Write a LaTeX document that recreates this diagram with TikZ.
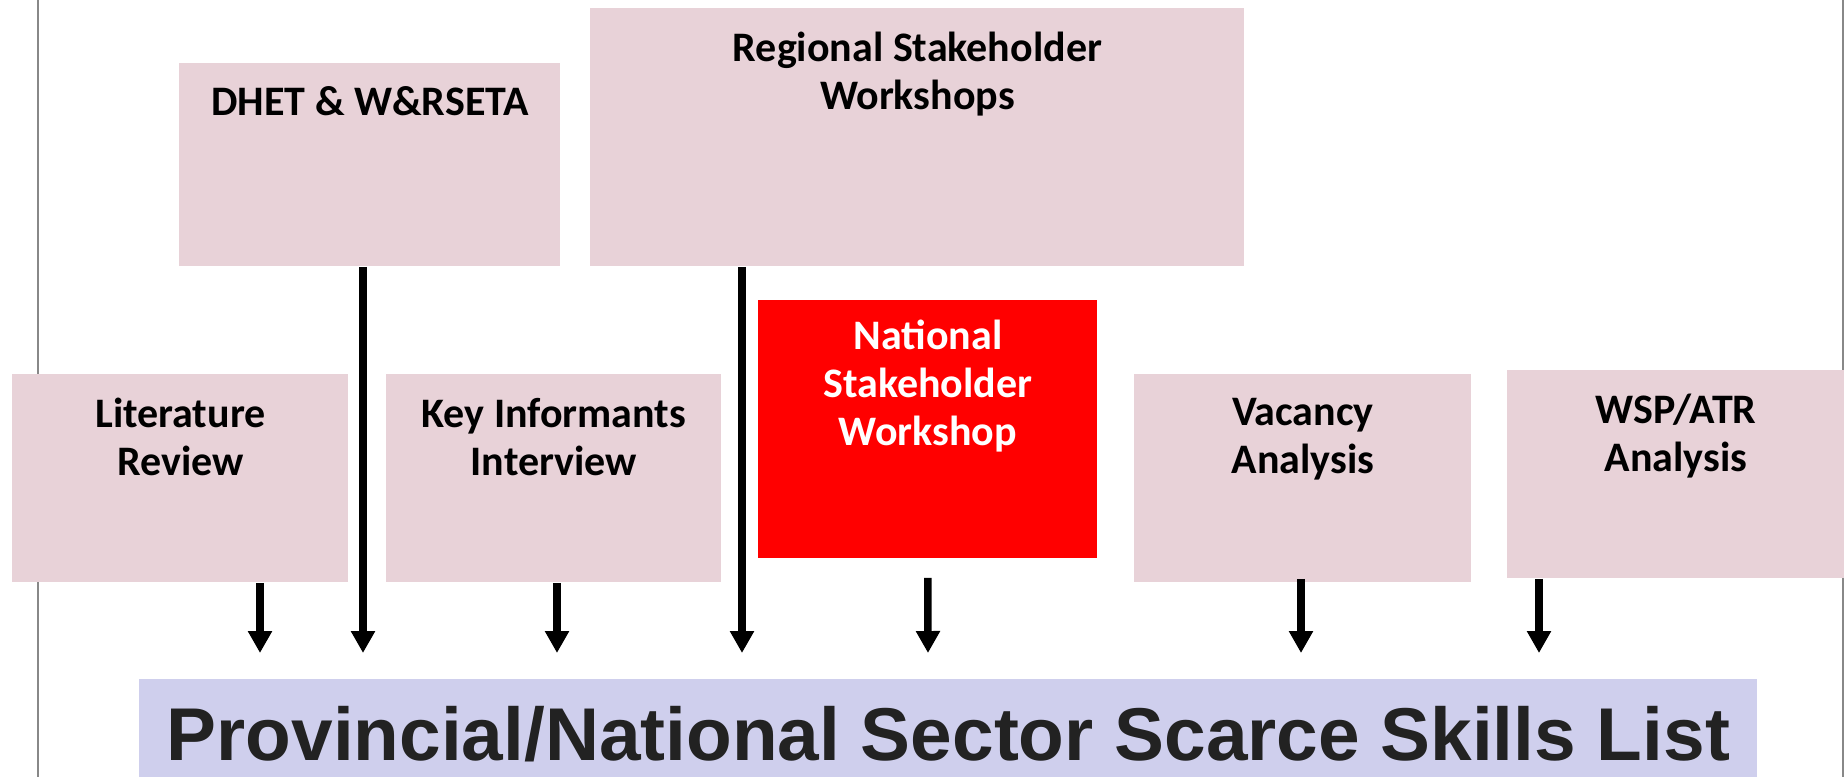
\documentclass[tikz,border=0pt]{standalone}
\usepackage{fontspec}
\setmainfont{Carlito}
\newfontfamily\listfont{Liberation Sans}
\usetikzlibrary{positioning,arrows.meta}

\definecolor{boxpink}{RGB}{232,210,216}
\definecolor{listblue}{RGB}{207,207,237}
\definecolor{listgray}{RGB}{34,34,34}
\definecolor{edgegray}{RGB}{136,136,136}

\def\px{0.5pt}

\tikzset{
  source/.style={fill=boxpink, inner sep=0pt, anchor=north west},
  srctext/.style={inner sep=0pt, align=center, font=\bfseries\fontsize{21pt}{24pt}\selectfont},
  flow/.style={line width=3.75pt, -{Triangle[width=11.5pt,length=11pt]}},
}

\begin{document}
\begin{tikzpicture}[x=\px, y=-\px]
      \useasboundingbox (0,0) rectangle (1844,777);
      % page edges
      \draw[edgegray, line width=1.3pt] (38,0) -- (38,777);
      \draw[edgegray, line width=1.3pt] (1843,0) -- (1843,777);

      % top row
      \node[source, minimum width=190.5pt, minimum height=101.5pt] (dhet) at (179,63) {};
      \node[srctext, below=11.5pt of dhet.north] (dhet-txt) {DHET \& W\&RSETA};
      \node[source, minimum width=327pt, minimum height=129pt] (regional) at (590,8) {};
      \node[srctext, below=12pt of regional.north] (regional-txt) {Regional Stakeholder\\Workshops};

      % middle row
      \node[source, minimum width=168pt, minimum height=104pt] (lit) at (12,374) {};
      \node[srctext, below=12pt of lit.north] (lit-txt) {Literature\\Review};
      \node[source, minimum width=167.5pt, minimum height=104pt] (key) at (386,374) {};
      \node[srctext, below=12pt of key.north] (key-txt) {Key Informants\\Interview};
      \node[source, fill=red, minimum width=169.5pt, minimum height=129pt] (nat) at (758,300) {};
      \node[srctext, white, below=10pt of nat.north] (nat-txt) {National\\Stakeholder\\Workshop};
      \node[source, minimum width=168.5pt, minimum height=104pt] (vac) at (1134,374) {};
      \node[srctext, below=12pt of vac.north] (vac-txt) {Vacancy\\Analysis};
      \node[source, minimum width=168.5pt, minimum height=104pt] (wsp) at (1507,370) {};
      \node[srctext, below=12pt of wsp.north] (wsp-txt) {WSP/ATR\\Analysis};

      % the list
      \node[source, fill=listblue, minimum width=809pt, minimum height=49pt] (list) at (139,679) {};
      \node[inner sep=0pt, text=listgray, font=\listfont\bfseries\fontsize{37.4pt}{42pt}\selectfont] (list-txt) at ([yshift=-3pt]list.center) {Provincial/National Sector Scarce Skills List};

      % arrow ends
      \coordinate (e-lit) at (260,653);
      \coordinate (e-dhet) at (363,653);
      \coordinate (e-key) at (557,653);
      \coordinate (e-reg) at (742,653);
      \coordinate (e-nat) at (928,653);
      \coordinate (e-vac) at (1301,653);
      \coordinate (e-wsp) at (1539,653);

      \draw[flow] (lit.south -| e-lit) -- (e-lit);
      \draw[flow] (dhet.south -| e-dhet) -- (e-dhet);
      \draw[flow] (key.south -| e-key) -- (e-key);
      \draw[flow] (regional.south -| e-reg) -- (e-reg);
      \draw[flow] ([yshift=-9.5pt]nat.south) -- (e-nat);
      \draw[flow] ([yshift=2pt]vac.south -| e-vac) -- (e-vac);
      \draw[flow] (wsp.south -| e-wsp) -- (e-wsp);
\end{tikzpicture}
\end{document}
